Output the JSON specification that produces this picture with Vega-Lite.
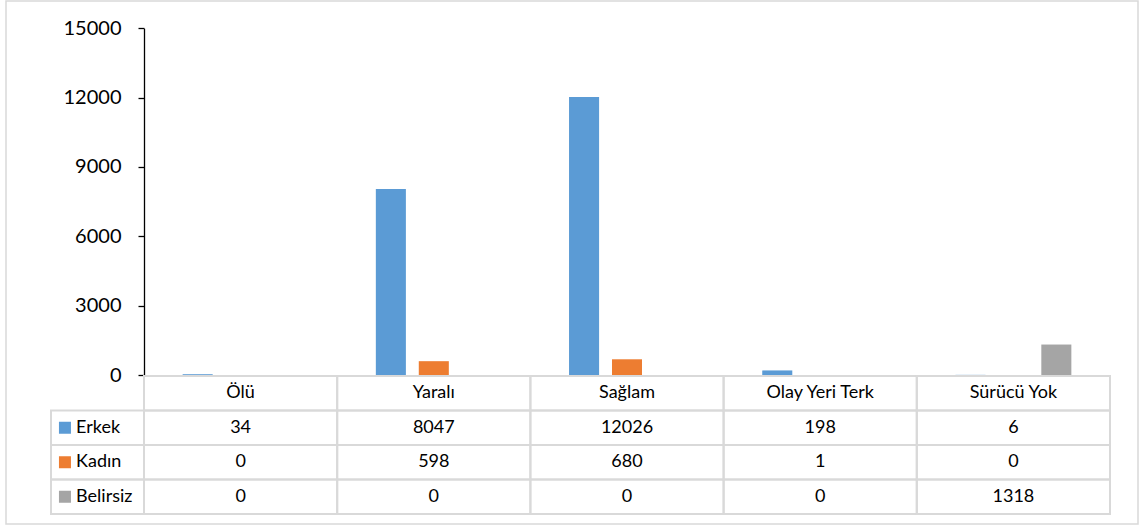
{
  "$schema": "https://vega.github.io/schema/vega-lite/v6.json",
  "width": 1132,
  "height": 523,
  "autosize": {"type": "none"},
  "padding": {"left": 6, "top": 1, "right": 6, "bottom": 4},
  "background": "white",
  "config": {
    "view": {"stroke": "#D9D9D9", "strokeWidth": 1.5},
    "font": "Lato"
  },
  "datasets": {
    "bars": [
      {"cat": "Ölü", "series": "Erkek", "value": 34},
      {"cat": "Yaralı", "series": "Erkek", "value": 8047},
      {"cat": "Sağlam", "series": "Erkek", "value": 12026},
      {"cat": "Olay Yeri Terk", "series": "Erkek", "value": 198},
      {"cat": "Sürücü Yok", "series": "Erkek", "value": 6},
      {"cat": "Ölü", "series": "Kadın", "value": 0},
      {"cat": "Yaralı", "series": "Kadın", "value": 598},
      {"cat": "Sağlam", "series": "Kadın", "value": 680},
      {"cat": "Olay Yeri Terk", "series": "Kadın", "value": 1},
      {"cat": "Sürücü Yok", "series": "Kadın", "value": 0},
      {"cat": "Ölü", "series": "Belirsiz", "value": 0},
      {"cat": "Yaralı", "series": "Belirsiz", "value": 0},
      {"cat": "Sağlam", "series": "Belirsiz", "value": 0},
      {"cat": "Olay Yeri Terk", "series": "Belirsiz", "value": 0},
      {"cat": "Sürücü Yok", "series": "Belirsiz", "value": 1318}
    ],
    "table": [
      {"cat": "Ölü", "row": "header", "label": "Ölü"},
      {"cat": "Yaralı", "row": "header", "label": "Yaralı"},
      {"cat": "Sağlam", "row": "header", "label": "Sağlam"},
      {"cat": "Olay Yeri Terk", "row": "header", "label": "Olay Yeri Terk"},
      {"cat": "Sürücü Yok", "row": "header", "label": "Sürücü Yok"},
      {"cat": "Ölü", "row": "Erkek", "label": "34"},
      {"cat": "Yaralı", "row": "Erkek", "label": "8047"},
      {"cat": "Sağlam", "row": "Erkek", "label": "12026"},
      {"cat": "Olay Yeri Terk", "row": "Erkek", "label": "198"},
      {"cat": "Sürücü Yok", "row": "Erkek", "label": "6"},
      {"cat": "Ölü", "row": "Kadın", "label": "0"},
      {"cat": "Yaralı", "row": "Kadın", "label": "598"},
      {"cat": "Sağlam", "row": "Kadın", "label": "680"},
      {"cat": "Olay Yeri Terk", "row": "Kadın", "label": "1"},
      {"cat": "Sürücü Yok", "row": "Kadın", "label": "0"},
      {"cat": "Ölü", "row": "Belirsiz", "label": "0"},
      {"cat": "Yaralı", "row": "Belirsiz", "label": "0"},
      {"cat": "Sağlam", "row": "Belirsiz", "label": "0"},
      {"cat": "Olay Yeri Terk", "row": "Belirsiz", "label": "0"},
      {"cat": "Sürücü Yok", "row": "Belirsiz", "label": "1318"}
    ],
    "legend": [
      {"series": "Erkek"},
      {"series": "Kadın"},
      {"series": "Belirsiz"}
    ]
  },
  "resolve": {"scale": {"x": "independent", "y": "independent"}},
  "layer": [
    {
      "data": {"name": "table"},
      "mark": {"type": "rect", "fill": "white", "fillOpacity": 0, "stroke": "#D9D9D9", "strokeWidth": 2},
      "encoding": {
        "x": {"field": "cat", "type": "nominal", "sort": null, "axis": null,
              "scale": {"domain": ["Ölü", "Yaralı", "Sağlam", "Olay Yeri Terk", "Sürücü Yok"], "range": [138, 1104], "paddingInner": 0, "paddingOuter": 0}},
        "y": {"field": "row", "type": "nominal", "sort": null, "axis": null,
              "scale": {"domain": ["header", "Erkek", "Kadın", "Belirsiz"], "range": [375, 513], "paddingInner": 0, "paddingOuter": 0}}
      }
    },
    {
      "data": {"name": "legend"},
      "mark": {"type": "rect", "fill": "white", "fillOpacity": 0, "stroke": "#D9D9D9", "strokeWidth": 2},
      "encoding": {
        "x": {"datum": "legcol", "type": "nominal", "axis": null,
              "scale": {"type": "band", "domain": ["legcol"], "range": [45, 138], "paddingInner": 0, "paddingOuter": 0}},
        "y": {"field": "series", "type": "nominal", "sort": null, "axis": null,
              "scale": {"domain": ["header", "Erkek", "Kadın", "Belirsiz"], "range": [375, 513], "paddingInner": 0, "paddingOuter": 0}}
      }
    },
    {
      "data": {"name": "bars"},
      "mark": {"type": "bar"},
      "encoding": {
        "x": {"field": "cat", "type": "nominal", "sort": null, "axis": null,
              "scale": {"domain": ["Ölü", "Yaralı", "Sağlam", "Olay Yeri Terk", "Sürücü Yok"], "range": [138, 1104], "paddingInner": 0, "paddingOuter": 0}},
        "xOffset": {"field": "series", "type": "nominal", "sort": null,
              "scale": {"domain": ["Erkek", "Kadın", "Belirsiz"], "paddingInner": 0.3, "paddingOuter": 0.9}},
        "y": {"field": "value", "type": "quantitative",
              "scale": {"domain": [0, 15000], "range": [374, 27.3], "nice": false, "zero": true},
              "axis": {"values": [0, 3000, 6000, 9000, 12000, 15000], "format": "d", "offset": -138, "grid": false, "title": null,
                       "domainColor": "#000000", "domainWidth": 1.3, "tickColor": "#000000", "tickWidth": 1.3, "tickSize": 6,
                       "labelFont": "Lato", "labelFontSize": 20, "labelColor": "#000000", "labelPadding": 17}},
        "color": {"field": "series", "type": "nominal", "sort": null, "legend": null,
                  "scale": {"domain": ["Erkek", "Kadın", "Belirsiz"], "range": ["#5B9BD5", "#ED7D31", "#A5A5A5"]}}
      }
    },
    {
      "data": {"name": "table"},
      "mark": {"type": "text", "font": "Lato", "fontSize": 18, "color": "#000000", "baseline": "middle", "align": "center"},
      "encoding": {
        "x": {"field": "cat", "type": "nominal", "sort": null, "axis": null,
              "scale": {"domain": ["Ölü", "Yaralı", "Sağlam", "Olay Yeri Terk", "Sürücü Yok"], "range": [138, 1104], "paddingInner": 0, "paddingOuter": 0}},
        "y": {"field": "row", "type": "nominal", "sort": null, "axis": null,
              "scale": {"domain": ["header", "Erkek", "Kadın", "Belirsiz"], "range": [375, 513], "paddingInner": 0, "paddingOuter": 0}},
        "text": {"field": "label", "type": "nominal"}
      }
    },
    {
      "data": {"name": "legend"},
      "mark": {"type": "square", "size": 144, "opacity": 1},
      "encoding": {
        "x": {"datum": "legcol", "type": "nominal", "bandPosition": 0.15, "axis": null,
              "scale": {"type": "band", "domain": ["legcol"], "range": [45, 138], "paddingInner": 0, "paddingOuter": 0}},
        "y": {"field": "series", "type": "nominal", "sort": null, "axis": null,
              "scale": {"domain": ["header", "Erkek", "Kadın", "Belirsiz"], "range": [375, 513], "paddingInner": 0, "paddingOuter": 0}},
        "color": {"field": "series", "type": "nominal", "sort": null, "legend": null}
      }
    },
    {
      "data": {"name": "legend"},
      "mark": {"type": "text", "font": "Lato", "fontSize": 18, "color": "#000000", "baseline": "middle", "align": "left"},
      "encoding": {
        "x": {"datum": "legcol", "type": "nominal", "bandPosition": 0.27, "axis": null,
              "scale": {"type": "band", "domain": ["legcol"], "range": [45, 138], "paddingInner": 0, "paddingOuter": 0}},
        "y": {"field": "series", "type": "nominal", "sort": null, "axis": null,
              "scale": {"domain": ["header", "Erkek", "Kadın", "Belirsiz"], "range": [375, 513], "paddingInner": 0, "paddingOuter": 0}},
        "text": {"field": "series", "type": "nominal"}
      }
    }
  ]
}
